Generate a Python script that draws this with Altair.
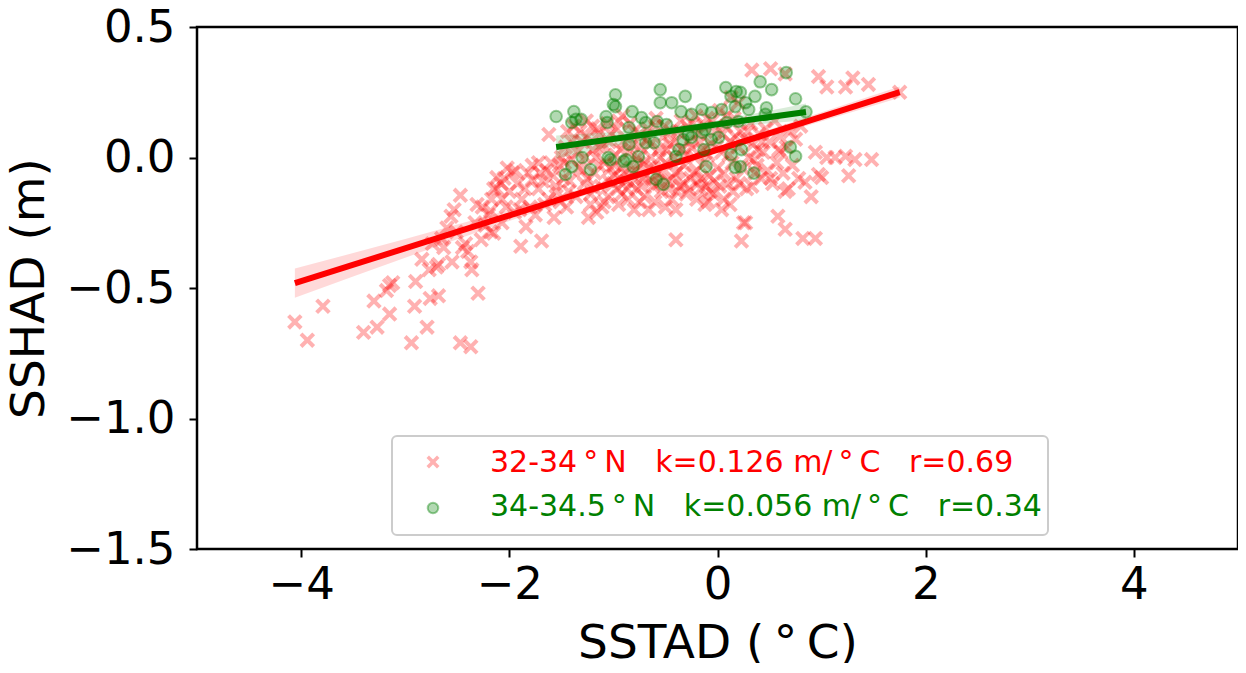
import altair as alt
import pandas as pd

# ---- data (SSTAD in degC, SSHAD in m) ----
red_pairs = [
    (-4.06, -0.63), (-3.94, -0.70), (-3.79, -0.57), (-3.40, -0.67), (-3.27, -0.65),
    (-3.30, -0.55), (-3.15, -0.60), (-3.15, -0.49), (-3.12, -0.48), (-3.18, -0.51),
    (-2.90, -0.475), (-2.91, -0.57), (-2.94, -0.71), (-2.79, -0.65), (-2.76, -0.54),
    (-2.68, -0.53), (-2.84, -0.39), (-2.70, -0.42), (-2.68, -0.41), (-2.77, -0.43),
    (-2.63, -0.345), (-2.65, -0.31), (-2.55, -0.40), (-2.47, -0.71), (-2.37, -0.725),
    (-2.30, -0.52), (-2.36, -0.43), (-2.37, -0.40), (-2.45, -0.345), (-2.42, -0.33),
    (-2.51, -0.285), (-2.56, -0.225), (-2.53, -0.20), (-2.47, -0.145), (-2.31, -0.18),
    (-2.26, -0.19), (-2.18, -0.285), (-2.17, -0.16), (-2.12, -0.12), (-2.08, -0.10),
    (-2.27, -0.315), (-2.07, -0.25), (-2.03, -0.19), (-2.74, -0.33), (-2.60, -0.27),
    (-2.40, -0.36), (-2.33, -0.25), (-2.20, -0.22), (-2.23, -0.26),
    (-2.12, -0.077), (-1.97, -0.058), (-2.15, -0.12), (-2.07, -0.16), (-2.18, -0.205),
    (-2.15, -0.29), (-1.89, -0.34), (-1.69, -0.32), (-1.84, -0.265), (-1.88, -0.16),
    (-1.78, -0.03), (-1.72, -0.02), (-1.78, -0.085), (-1.64, -0.05), (-1.55, -0.11),
    (-1.72, -0.12), (-1.62, -0.16), (-1.51, -0.17), (-1.43, -0.13), (-1.62, 0.088),
    (-1.40, -0.008), (-1.46, 0.04), (-1.95, -0.21), (-2.00, -0.13), (-1.92, -0.10),
    (-1.85, -0.12), (-1.80, -0.19), (-1.75, -0.22), (-1.68, -0.09), (-1.58, -0.07),
    (-1.52, -0.03), (-1.66, -0.18), (-1.57, -0.23), (-1.48, -0.08), (-1.45, -0.19),
    (-1.94, -0.05), (-2.02, -0.04),
    (-1.24, -0.23), (-1.11, -0.19), (-1.16, -0.21), (-0.66, -0.20), (-0.40, -0.20),
    (-0.12, -0.18), (-0.40, -0.315),
    (-1.40, 0.06), (-1.35, 0.02), (-1.30, -0.05), (-1.28, -0.10), (-1.25, 0.08),
    (-1.22, -0.14), (-1.20, 0.03), (-1.18, -0.06), (-1.15, 0.11), (-1.12, -0.11),
    (-1.10, 0.05), (-1.08, -0.02), (-1.05, -0.15), (-1.02, 0.09), (-1.00, -0.07),
    (-0.98, 0.01), (-0.96, -0.12), (-0.95, 0.14), (-0.92, -0.04), (-0.90, 0.06),
    (-0.88, -0.09), (-0.86, -0.16), (-0.85, 0.02), (-0.82, -0.06), (-0.80, 0.10),
    (-0.78, -0.12), (-0.76, -0.02), (-0.74, 0.04), (-0.72, -0.08), (-0.70, -0.15),
    (-0.68, 0.07), (-0.66, -0.04), (-0.64, 0.00), (-0.62, -0.11), (-0.60, 0.12),
    (-0.58, -0.06), (-0.56, 0.03), (-0.54, -0.13), (-0.52, 0.08), (-0.50, -0.02),
    (-0.48, -0.09), (-0.46, 0.05), (-0.44, -0.16), (-0.42, 0.00), (-0.40, -0.06),
    (-0.38, 0.10), (-0.36, -0.11), (-0.34, 0.03), (-0.32, -0.03), (-0.30, -0.14),
    (-0.28, 0.06), (-0.26, -0.08), (-0.24, 0.13), (-0.22, 0.00), (-0.20, -0.05),
    (-0.18, 0.09), (-0.16, -0.12), (-0.14, 0.03), (-0.12, -0.02), (-0.10, 0.15),
    (-0.08, -0.07), (-0.06, 0.05), (-0.04, -0.14), (-0.02, 0.10), (0.00, -0.04),
    (-1.00, -0.10), (-0.94, -0.08), (-0.87, -0.12), (-0.83, -0.10), (-0.79, -0.05),
    (-0.73, -0.11), (-0.69, -0.07), (-0.63, -0.09), (-0.57, -0.10), (-0.53, -0.06),
    (-0.47, -0.12), (-0.43, -0.08), (-0.37, -0.05), (-0.33, -0.10), (-0.27, -0.12),
    (-0.23, -0.06), (-0.19, -0.10), (-0.15, -0.08), (-0.11, -0.11), (-0.07, -0.13),
    (-0.03, -0.09),
    (-1.38, 0.12), (-1.32, 0.10), (-1.26, 0.14), (-1.20, 0.12), (-1.14, 0.09),
    (-1.06, 0.13), (-0.97, 0.11), (-0.91, 0.16), (-0.84, 0.13), (-0.75, 0.09),
    (-0.67, 0.11), (-0.59, 0.15), (-0.51, 0.12), (-0.45, 0.10), (-0.35, 0.14),
    (-0.29, 0.12), (-0.21, 0.16), (-0.13, 0.12), (-0.05, 0.14), (0.02, 0.18),
    (-1.47, -0.02), (-1.42, -0.09), (-1.36, -0.15), (-1.33, -0.04), (-1.27, 0.00),
    (-1.22, -0.18), (-1.14, -0.03), (-1.09, -0.17), (-1.03, -0.04),
    (-1.30, 0.06), (-1.17, 0.00), (-1.13, 0.04), (-1.04, 0.06), (-0.99, -0.03),
    (-0.93, 0.03), (-0.89, -0.06), (-0.81, 0.05), (-0.77, 0.00), (-0.71, -0.02),
    (-0.65, 0.05), (-0.61, -0.04), (-0.55, 0.00), (-0.49, 0.03), (-0.41, 0.06),
    (-0.39, -0.13), (-0.31, 0.01), (-0.25, 0.04), (-0.17, 0.06), (-0.09, 0.01),
    (-0.01, 0.04), (0.05, 0.09), (0.11, 0.01), (0.17, 0.08), (0.21, -0.10),
    (0.29, 0.10), (0.35, -0.01), (0.43, 0.06), (0.51, -0.08), (0.59, 0.03),
    (-0.95, -0.18), (-0.80, -0.20), (-0.60, -0.17), (-0.50, -0.19), (-0.20, -0.16),
    (-0.09, -0.17), (0.04, -0.20), (-1.55, -0.13), (-1.60, -0.02), (-1.50, 0.00),
    (-1.44, 0.10), (-1.70, -0.06), (-1.82, -0.06), (-2.05, -0.08), (-1.90, -0.20),
    (-1.25, -0.08), (-1.18, -0.12), (-1.05, -0.09), (-0.92, -0.14), (-0.75, -0.17),
    (0.25, -0.25), (0.23, -0.32), (0.33, 0.335), (0.51, 0.34), (0.65, 0.32),
    (0.97, 0.31), (1.05, 0.27), (1.23, 0.27), (1.30, 0.305), (1.45, 0.28),
    (1.75, 0.25), (0.94, 0.02), (1.05, 0.00), (1.13, 0.00), (1.23, 0.005),
    (1.32, -0.008), (1.48, -0.008), (1.26, -0.07), (0.97, -0.065), (1.00, -0.077),
    (0.84, -0.095), (0.68, -0.12), (0.65, -0.13), (0.90, -0.15), (0.27, -0.25),
    (0.58, -0.225), (0.65, -0.275), (0.82, -0.31), (0.94, -0.31), (0.61, 0.02),
    (0.39, 0.03), (0.36, -0.06), (0.33, -0.11),
    (0.04, 0.02), (0.06, -0.06), (0.08, 0.12), (0.10, -0.10), (0.12, 0.06),
    (0.14, -0.02), (0.16, 0.15), (0.18, -0.08), (0.20, 0.04), (0.22, 0.10),
    (0.24, -0.04), (0.26, 0.07), (0.28, -0.12), (0.30, 0.00), (0.32, 0.13),
    (0.34, 0.05), (0.38, -0.03), (0.40, 0.09), (0.42, -0.08), (0.44, 0.02),
    (0.46, 0.11), (0.48, -0.05), (0.50, 0.06), (0.53, -0.10), (0.55, 0.14),
    (0.57, -0.02), (0.60, 0.08), (0.63, -0.06), (0.66, 0.04), (0.70, 0.10),
    (0.72, -0.03), (0.75, 0.07), (0.78, -0.08), (0.80, 0.12), (0.06, -0.16),
    (0.12, -0.18), (0.15, -0.13), (0.02, -0.11), (0.09, 0.16), (0.20, 0.21),
    (0.13, 0.23),
]

green_pairs = [
    (-1.55, 0.157), (-1.38, 0.176), (-1.36, 0.146), (-1.31, 0.146), (-1.40, 0.134),
    (-0.98, 0.24), (-0.98, 0.195), (-1.07, 0.157), (-1.06, 0.134), (-0.82, 0.176),
    (-0.73, 0.153), (-0.69, 0.134), (-0.58, 0.138), (-0.55, 0.26), (-0.55, 0.21),
    (-0.44, 0.21), (-0.31, 0.234), (-0.35, 0.176), (-0.49, 0.126), (-0.85, 0.115),
    (-0.25, 0.165), (-0.15, 0.184), (-0.06, 0.172), (0.08, 0.268), (0.18, 0.253),
    (0.13, 0.234), (0.36, 0.234), (0.41, 0.29), (0.52, 0.26), (0.66, 0.325),
    (0.75, 0.225), (0.22, 0.25), (0.27, 0.21), (0.47, 0.19), (0.85, 0.175),
    (0.70, 0.04), (0.75, 0.005), (0.35, -0.06), (0.23, 0.03), (0.22, -0.035),
    (0.04, 0.184), (0.17, 0.195), (0.30, 0.184), (-1.46, -0.065), (-1.40, -0.035),
    (-1.30, 0.00), (-1.22, -0.046), (-1.05, 0.00), (-0.88, -0.008), (-0.81, -0.035),
    (-0.76, 0.004), (-0.85, 0.05), (-0.69, 0.057), (-0.61, 0.057), (-0.59, -0.084),
    (-0.52, -0.103), (-0.40, 0.004), (-0.37, 0.03), (-0.33, 0.069), (-0.25, 0.077),
    (-0.13, 0.03), (-0.11, -0.035), (-0.06, 0.069), (0.01, 0.077), (0.13, 0.011),
    (0.17, -0.038), (-0.12, 0.107), (0.09, 0.134), (0.20, 0.138), (0.46, 0.165),
    (-1.00, 0.203), (-1.03, -0.008), (-0.90, -0.015), (-0.15, 0.096), (-0.28, 0.088),
]

red_x = [p[0] for p in red_pairs]
red_y = [p[1] for p in red_pairs]
green_x = [p[0] for p in green_pairs]
green_y = [p[1] for p in green_pairs]

# regression lines (slope from legend, intercept)
red_k, red_b = 0.126, 0.030
green_k, green_b = 0.056, 0.127
# confidence-band half widths
red_band_x = [-4.06, -3.5, -3.0, -2.5, -2.0, -1.5, -1.0, -0.5, 0.0, 0.5, 1.0, 1.75]
red_band_h = [0.056, 0.045, 0.036, 0.028, 0.021, 0.016, 0.013, 0.012, 0.012, 0.014, 0.017, 0.022]
green_band_x = [-1.55, -1.0, -0.5, 0.0, 0.5, 0.85]
green_band_h = [0.044, 0.027, 0.017, 0.016, 0.024, 0.032]

legend_labels = [
    "32-34\u2009°\u2009N\u00a0\u00a0\u00a0k=0.126\u00a0m/\u2009°\u2009C\u00a0\u00a0\u00a0r=0.69",
    "34-34.5\u2009°\u2009N\u00a0\u00a0\u00a0k=0.056\u00a0m/\u2009°\u2009C\u00a0\u00a0\u00a0r=0.34",
]
x_ticks = [-4, -2, 0, 2, 4]
y_ticks = [-1.5, -1.0, -0.5, 0.0, 0.5]

RED = "#ff0000"
GREEN = "#008000"
FONT = "DejaVu Sans"
X_PATH = "M-1,-1L1,1M-1,1L1,-1"

xs = alt.Scale(domain=[-5, 5], nice=False, zero=False)
ys = alt.Scale(domain=[-1.5, 0.5], nice=False, zero=False)
xaxis = alt.Axis(values=x_ticks, format="d", title="SSTAD (\u2009°\u2009C)", grid=False,
                 domain=False, tickSize=8, tickWidth=2, tickColor="black",
                 labelFontSize=45, titleFontSize=47, labelFont=FONT, titleFont=FONT,
                 labelColor="black", titleColor="black", titleFontWeight="normal",
                 labelPadding=5, titlePadding=13)
yaxis = alt.Axis(values=y_ticks, format=".1f", title="SSHAD (m)", grid=False,
                 domain=False, tickSize=8, tickWidth=2, tickColor="black",
                 labelFontSize=45, titleFontSize=47, labelFont=FONT, titleFont=FONT,
                 labelColor="black", titleColor="black", titleFontWeight="normal",
                 labelPadding=14, titlePadding=12)


def X(field):
    return alt.X(f"{field}:Q", scale=xs, axis=xaxis)


def Y(field):
    return alt.Y(f"{field}:Q", scale=ys, axis=yaxis)


red_df = pd.DataFrame({"x": red_x, "y": red_y})
green_df = pd.DataFrame({"x": green_x, "y": green_y})

red_band = pd.DataFrame({"x": red_band_x})
red_band["lo"] = [red_k * x + red_b - h for x, h in zip(red_band_x, red_band_h)]
red_band["hi"] = [red_k * x + red_b + h for x, h in zip(red_band_x, red_band_h)]
green_band = pd.DataFrame({"x": green_band_x})
green_band["lo"] = [green_k * x + green_b - h for x, h in zip(green_band_x, green_band_h)]
green_band["hi"] = [green_k * x + green_b + h for x, h in zip(green_band_x, green_band_h)]

red_line = pd.DataFrame({"x": [min(red_x), max(red_x)]})
red_line["y"] = red_k * red_line["x"] + red_b
green_line = pd.DataFrame({"x": [min(green_x), max(green_x)]})
green_line["y"] = green_k * green_line["x"] + green_b

red_pts = alt.Chart(red_df).mark_point(
    shape=X_PATH, filled=False, color=RED, opacity=0.3, strokeWidth=4, size=160
).encode(x=X("x"), y=Y("y"))
red_bd = alt.Chart(red_band).mark_area(color=RED, opacity=0.15).encode(
    x=X("x"), y=Y("lo"), y2="hi:Q")
red_ln = alt.Chart(red_line).mark_line(color=RED, strokeWidth=6).encode(x=X("x"), y=Y("y"))

green_pts = alt.Chart(green_df).mark_point(
    shape="circle", filled=True, fill=GREEN, stroke=GREEN, fillOpacity=0.3,
    strokeOpacity=0.4, strokeWidth=2, size=135
).encode(x=X("x"), y=Y("y"))
green_bd = alt.Chart(green_band).mark_area(color=GREEN, opacity=0.15).encode(
    x=X("x"), y=Y("lo"), y2="hi:Q")
green_ln = alt.Chart(green_line).mark_line(color=GREEN, strokeWidth=6).encode(x=X("x"), y=Y("y"))

one = alt.Data(values=[{"a": 1}])
leg_box = alt.Chart(one).mark_rect(
    fill="white", fillOpacity=0.8, stroke="#cccccc", strokeWidth=2, cornerRadius=5
).encode(x=alt.value(195), x2=alt.value(851), y=alt.value(409), y2=alt.value(508))
leg_m1 = alt.Chart(one).mark_point(
    shape=X_PATH, filled=False, color=RED, opacity=0.3, strokeWidth=3.5, size=110
).encode(x=alt.value(236), y=alt.value(435))
leg_m2 = alt.Chart(one).mark_point(
    shape="circle", filled=True, fill=GREEN, stroke=GREEN, fillOpacity=0.3,
    strokeOpacity=0.4, strokeWidth=2, size=110
).encode(x=alt.value(236), y=alt.value(481))
leg_t1 = alt.Chart(one).mark_text(
    text=legend_labels[0], color=RED, font=FONT, fontSize=30, align="left", baseline="middle"
).encode(x=alt.value(293), y=alt.value(436))
leg_t2 = alt.Chart(one).mark_text(
    text=legend_labels[1], color=GREEN, font=FONT, fontSize=30, align="left", baseline="middle"
).encode(x=alt.value(293), y=alt.value(480))

chart = alt.layer(
    red_pts, red_bd, red_ln, green_pts, green_bd, green_ln,
    leg_box, leg_m1, leg_m2, leg_t1, leg_t2
).properties(
    width=1041, height=522,
    autosize=alt.AutoSizeParams(type="none"),
    padding={"left": 189, "top": 19, "right": 0, "bottom": 114},
).configure_view(stroke="black", strokeWidth=2.5)

chart.save("out.html", embed_options={"renderer": "svg", "actions": False})
